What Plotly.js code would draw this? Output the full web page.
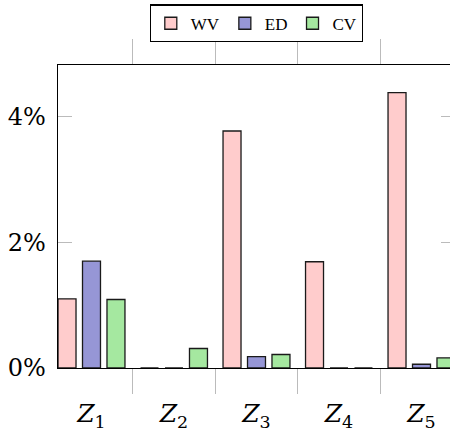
<!DOCTYPE html>
<html>
<head>
<meta charset="utf-8">
<script src="https://cdn.plot.ly/plotly-3.0.1.min.js"></script>
<style>
html,body{margin:0;padding:0;overflow:hidden;background:#fff;width:450px;height:433px;}
#chart{width:460px;height:433px;}
</style>
</head>
<body>
<div id="chart"></div>
<script>
const categories = ['<i>Z</i><sub>1</sub>','<i>Z</i><sub>2</sub>','<i>Z</i><sub>3</sub>','<i>Z</i><sub>4</sub>','<i>Z</i><sub>5</sub>'];
const seriesNames = ['WV','ED','CV'];
const wv = [1.10, 0.00, 3.77, 1.69, 4.38];
const ed = [1.70, 0.00, 0.18, 0.00, 0.06];
const cv = [1.09, 0.31, 0.215, 0.00, 0.16];
const colors = ['#ffcccc','#9696d6','#a5e8a0'];
const yTickVals = [0, 2, 4];
const yTickText = ['0%','2%','4%'];

const serif = '"DejaVu Serif", "Liberation Serif", serif';
const data = [wv, ed, cv].map((vals, i) => ({
  type: 'bar',
  name: seriesNames[i],
  x: categories,
  y: vals,
  marker: {color: colors[i], line: {color: '#1a1a1a', width: 1.3}},
  hoverinfo: 'none'
}));

const layout = {
  width: 460,
  height: 433,
  margin: {l: 58, r: 5, t: 62, b: 65},
  paper_bgcolor: '#fff',
  plot_bgcolor: '#fff',
  barmode: 'group',
  bargap: 0.11,
  bargroupgap: 0.265,
  showlegend: true,
  legend: {
    orientation: 'h',
    x: 0.5, xanchor: 'center',
    y: 1.2, yanchor: 'top',
    bordercolor: '#000', borderwidth: 1.3,
    bgcolor: '#fff',
    font: {family: '"Liberation Serif", serif', size: 17, color: '#000'},
    itemwidth: 30,
    traceorder: 'normal'
  },
  xaxis: {
    type: 'category',
    range: [-0.406, 4.406],
    tickson: 'boundaries',
    ticks: 'outside',
    ticklen: 25,
    tickwidth: 1,
    tickcolor: '#bbbbbb',
    showline: true,
    linecolor: '#000',
    linewidth: 1.3,
    mirror: 'ticks',
    showgrid: false,
    zeroline: false,
    ticklabelstandoff: 23,
    tickfont: {family: serif, size: 25, color: '#000'}
  },
  yaxis: {
    range: [0, 4.82],
    tickvals: yTickVals,
    ticktext: yTickText,
    ticks: 'inside',
    ticklen: 14,
    tickwidth: 1,
    tickcolor: '#bbbbbb',
    showline: true,
    linecolor: '#000',
    linewidth: 1.3,
    mirror: 'ticks',
    showgrid: false,
    zeroline: false,
    ticklabelstandoff: 6,
    tickfont: {family: serif, size: 24, color: '#000'}
  }
};

Plotly.newPlot('chart', data, layout, {displayModeBar: false, staticPlot: true});
</script>
</body>
</html>
